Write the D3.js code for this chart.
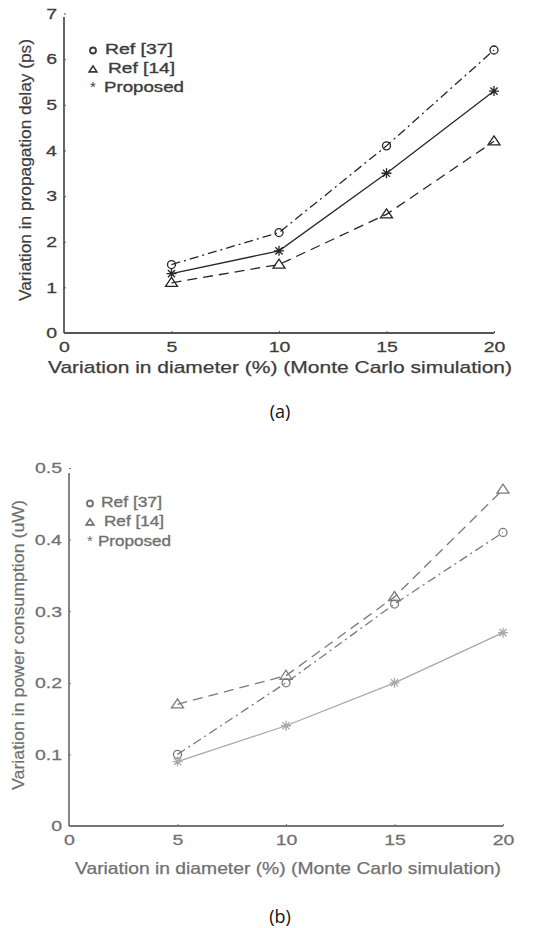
<!DOCTYPE html>
<html><head><meta charset="utf-8">
<script src="https://cdn.jsdelivr.net/npm/d3@7"></script>
<style>body{margin:0;background:#fff}svg{display:block}</style>
</head><body>
<svg id="c" width="537" height="928"></svg>
<script>
const xValues = [5, 10, 15, 20];
const xTicks = [0, 5, 10, 15, 20];
const seriesNames = ["Ref [37]", "Ref [14]", "Proposed"];
const delayRef37 = [1.5, 2.2, 4.1, 6.2];
const delayRef14 = [1.1, 1.5, 2.6, 4.2];
const delayProposed = [1.3, 1.8, 3.5, 5.3];
const delayTicks = [0, 1, 2, 3, 4, 5, 6, 7];
const powerRef37 = [0.10, 0.20, 0.31, 0.41];
const powerRef14 = [0.17, 0.21, 0.32, 0.47];
const powerProposed = [0.09, 0.14, 0.20, 0.27];
const powerTicks = [0, 0.1, 0.2, 0.3, 0.4, 0.5];
const xTitle = "Variation in diameter (%) (Monte Carlo simulation)";
const yTitleA = "Variation  in propagation delay (ps)";
const yTitleB = "Variation in power consumption (uW)";

const svg = d3.select("#c");
const FONT = "Liberation Sans, Arial, sans-serif";

function markerPath(type, s) {
  if (type === "circle") return d3.symbol(d3.symbolCircle, s * s * Math.PI / 4)();
  if (type === "triangle") {
    const h = s * 0.9, w = s * 0.6;
    return `M0,${-h*0.6}L${w},${h*0.4}L${-w},${h*0.4}Z`;
  }
  const r = s / 2, d = r * 0.72;
  return `M${-r},0L${r},0M0,${-r}L0,${r}M${-d},${-d}L${d},${d}M${-d},${d}L${d},${-d}`;
}

function drawChart(cfg) {
  const g = svg.append("g");
  const x = d3.scaleLinear().domain([0, 20]).range(cfg.xRange);
  const y = d3.scaleLinear().domain(cfg.yDomain).range(cfg.yRange);

  const xa = g.append("g").attr("transform", `translate(0,${cfg.yRange[0]})`)
    .call(d3.axisBottom(x).tickValues(xTicks).tickSize(-2).tickPadding(8).tickFormat(d3.format("d")));
  const ya = g.append("g").attr("transform", `translate(${cfg.xRange[0]},0)`)
    .call(d3.axisLeft(y).tickValues(cfg.yTicks).tickSize(-2).tickPadding(7).tickFormat(cfg.yFmt));
  [xa, ya].forEach(a => {
    a.select(".domain").attr("stroke", cfg.axisColor).attr("stroke-width", 1.8);
    a.selectAll(".tick line").attr("stroke", cfg.axisColor);
    a.selectAll("text").attr("font-family", FONT).attr("font-size", 15).attr("fill", cfg.textColor)
      .attr("stroke", cfg.textColor).attr("stroke-width", 0.25)
      .style("transform-box", "fill-box").style("transform", "scaleX(1.3)");
  });
  xa.selectAll("text").style("transform-origin", "center");
  ya.selectAll("text").style("transform-origin", "right center");
  xa.select(".domain").attr("d", `M${cfg.xRange[0]},0H${cfg.xRange[1]}`);
  ya.select(".domain").attr("d", `M0,${cfg.yRange[0]}V${cfg.yTop}`);

  const series = [
    {vals: cfg.s37, dash: "9,4,2,4", m: "circle", color: cfg.lineColor, ms: 8},
    {vals: cfg.s14, dash: "10,6", m: "triangle", color: cfg.lineColor, ms: 10},
    {vals: cfg.sP, dash: null, m: "star", color: cfg.propColor, ms: 10}
  ];
  const line = d3.line().x((d, i) => x(xValues[i])).y(d => y(d));
  series.forEach(s => {
    g.append("path").attr("d", line(s.vals)).attr("fill", "none")
      .attr("stroke", s.color).attr("stroke-width", 1.3)
      .attr("stroke-dasharray", s.dash);
    g.selectAll(null).data(s.vals).enter().append("path")
      .attr("transform", (d, i) => `translate(${x(xValues[i])},${y(d)})`)
      .attr("d", markerPath(s.m, s.ms))
      .attr("fill", "none").attr("stroke", s.color).attr("stroke-width", 1.3);
  });

  const lg = g.append("g").attr("font-family", FONT).attr("font-size", 15).attr("fill", cfg.textColor);
  cfg.legendY.forEach((ly, i) => {
    lg.append("text").attr("x", cfg.legendX + cfg.legendOff[i]).attr("y", ly).attr("dy", "0.35em")
      .attr("textLength", cfg.legendLen[i]).attr("lengthAdjust", "spacingAndGlyphs")
      .attr("stroke", cfg.textColor).attr("stroke-width", 0.35).text(seriesNames[i]);
    if (i === 0) lg.append("circle").attr("cx", cfg.legendX + 4).attr("cy", ly + 1.5).attr("r", 3)
      .attr("fill", "none").attr("stroke", cfg.textColor).attr("stroke-width", 1.8);
    if (i === 1) lg.append("path").attr("transform", `translate(${cfg.legendX + 4},${ly + 1.5})`)
      .attr("d", markerPath("triangle", 6.5)).attr("fill", "none").attr("stroke", cfg.textColor).attr("stroke-width", 1.6);
    if (i === 2) lg.append("text").attr("x", cfg.legendX + 1).attr("y", ly).attr("dy", "0.35em").text("*");
  });

  g.append("text").attr("x", cfg.xTitle[0]).attr("y", cfg.xTitle[1]).attr("dy", "0.35em")
    .attr("text-anchor", "middle").attr("font-family", FONT).attr("font-size", 17)
    .attr("fill", cfg.textColor).attr("stroke", cfg.textColor).attr("stroke-width", 0.25)
    .attr("textLength", cfg.xTitle[2]).attr("lengthAdjust", "spacingAndGlyphs")
    .text(xTitle);
  g.append("text").attr("transform", `translate(${cfg.yTitle[0]},${cfg.yTitle[1]}) rotate(-90)`)
    .attr("dy", "0.35em").attr("text-anchor", "middle").attr("font-family", FONT).attr("font-size", 16)
    .attr("fill", cfg.textColor).attr("stroke", cfg.textColor).attr("stroke-width", 0.2)
    .attr("textLength", cfg.yTitle[2]).attr("lengthAdjust", "spacingAndGlyphs")
    .text(cfg.yTitleText);
  g.append("text").attr("x", 280).attr("y", cfg.captionY).attr("dy", "0.35em").attr("text-anchor", "middle")
    .attr("font-family", "Open Sans, Noto Sans, sans-serif").attr("font-size", 18).attr("fill", "#111")
    .text(cfg.caption);
}

drawChart({
  xRange: [64, 494], yDomain: [0, 7], yRange: [333, 13.5], yTop: 17, yTicks: delayTicks,
  yFmt: d3.format("d"), s37: delayRef37, s14: delayRef14, sP: delayProposed,
  lineColor: "#262626", propColor: "#262626", axisColor: "#555", textColor: "#3c3c3c",
  legendX: 89, legendY: [49, 68, 87], legendOff: [16, 19, 15], legendLen: [68, 67, 80],
  xTitle: [280, 367, 464], yTitle: [25, 170, 262], yTitleText: yTitleA,
  captionY: 412, caption: "(a)"
});
drawChart({
  xRange: [69, 503], yDomain: [0, 0.5], yRange: [826, 468], yTop: 473, yTicks: powerTicks,
  yFmt: d => d === 0 ? "0" : d3.format(".1f")(d), s37: powerRef37, s14: powerRef14, sP: powerProposed,
  lineColor: "#7a7a7a", propColor: "#a8a8a8", axisColor: "#777", textColor: "#707070",
  legendX: 86, legendY: [502, 521, 541], legendOff: [15, 18, 12], legendLen: [61, 60, 73],
  xTitle: [288, 868, 426], yTitle: [18, 645, 290], yTitleText: yTitleB,
  captionY: 917, caption: "(b)"
});
</script>
</body></html>
